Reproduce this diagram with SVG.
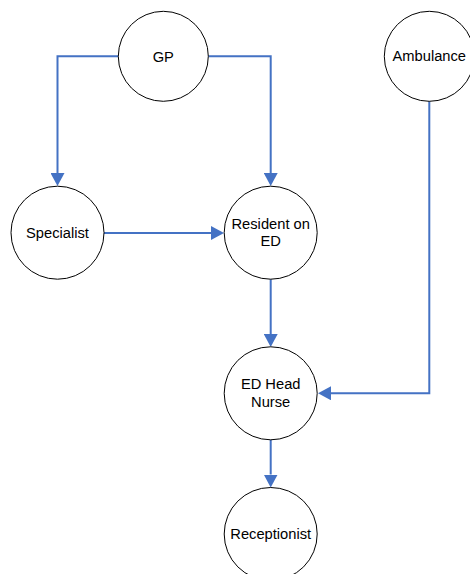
<svg xmlns="http://www.w3.org/2000/svg" width="470" height="574" viewBox="0 0 470 574">
  <style>
    .node circle { fill: #ffffff; stroke: #000000; stroke-width: 1; }
    .node text { font-family: "Liberation Sans", Arial, sans-serif; font-size: 14.7px; fill: #000000; text-anchor: middle; }
    .edge { fill: none; stroke: #4472C4; stroke-width: 2; }
  </style>
  <defs>
    <marker id="arrow" markerUnits="userSpaceOnUse" markerWidth="13" markerHeight="14" refX="0" refY="7" orient="auto">
      <path d="M0,0 L13,7 L0,14 z" fill="#4472C4"/>
    </marker>
  </defs>
  <rect width="470" height="574" fill="#ffffff"/>

  <g id="connectors">
    <path class="edge" d="M118.3,56.3 H57.5 V173" marker-end="url(#arrow)"/>
    <path class="edge" d="M208.3,56.3 H270.7 V173" marker-end="url(#arrow)"/>
    <path class="edge" d="M104,233 H211" marker-end="url(#arrow)"/>
    <path class="edge" d="M270.7,279.2 V334" marker-end="url(#arrow)"/>
    <path class="edge" d="M429.3,101.3 V393.3 H331" marker-end="url(#arrow)"/>
    <path class="edge" d="M270.7,439.8 V474.5" marker-end="url(#arrow)"/>
  </g>

  <g id="gp" class="node">
    <circle cx="163.3" cy="56.3" r="45"/>
    <text x="163.3" y="61.6">GP</text>
  </g>
  <g id="ambulance" class="node">
    <circle cx="429.3" cy="56.3" r="45"/>
    <text x="429.3" y="61.3">Ambulance</text>
  </g>
  <g id="specialist" class="node">
    <circle cx="57.5" cy="232.7" r="46.5"/>
    <text x="57.5" y="238">Specialist</text>
  </g>
  <g id="resident" class="node">
    <circle cx="270.7" cy="232.7" r="46.5"/>
    <text x="270.7" y="229">Resident on</text>
    <text x="270.7" y="246">ED</text>
  </g>
  <g id="head-nurse" class="node">
    <circle cx="270.7" cy="393.3" r="46.5"/>
    <text x="270.7" y="389.3">ED Head</text>
    <text x="270.7" y="406.5">Nurse</text>
  </g>
  <g id="receptionist" class="node">
    <circle cx="270.7" cy="534" r="46.5"/>
    <text x="270.7" y="539">Receptionist</text>
  </g>
</svg>
